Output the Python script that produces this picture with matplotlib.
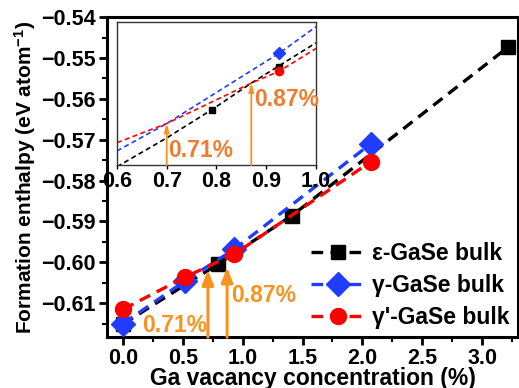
import matplotlib
matplotlib.use("Agg")
import matplotlib.pyplot as plt
from matplotlib.ticker import MultipleLocator

plt.rcParams['font.family'] = ['Liberation Sans', 'DejaVu Sans']
plt.rcParams['font.weight'] = 'bold'
plt.rcParams['mathtext.fontset'] = 'custom'
plt.rcParams['mathtext.rm'] = 'Liberation Sans:bold'
plt.rcParams['mathtext.bf'] = 'Liberation Sans:bold'
plt.rcParams['mathtext.it'] = 'Liberation Sans:bold:italic'

# ---- main data ----
eps_x = [0.0, 0.79, 1.41, 3.22]
eps_y = [-0.6151, -0.6005, -0.5886, -0.5473]
gam_x = [0.0, 0.52, 0.93, 2.07]
gam_y = [-0.6150, -0.6045, -0.5968, -0.5710]
gamp_x = [0.0, 0.52, 0.93, 2.07]
gamp_y = [-0.6115, -0.6036, -0.5980, -0.5754]
labels = ["ε-GaSe bulk", "γ-GaSe bulk", "γ'-GaSe bulk"]
cross_x = [0.71, 0.87]
cross_tip = [-0.6018, -0.6012]
cross_text = ["0.71%", "0.87%"]
text_pos_x = [0.16, 0.905]
text_pos_y = [-0.6154, -0.6080]

# ---- inset data ----
in_eps_x = [0.6, 0.7, 0.79, 0.87, 1.0]
in_eps_y = [-0.60421, -0.60233, -0.60050, -0.59875, -0.59612]
in_gam_x = [0.6, 0.7, 0.926, 1.0]
in_gam_y = [-0.60318, -0.60139, -0.59680, -0.59507]
in_gamp_x = [0.6, 0.7, 0.87, 0.926, 1.0]
in_gamp_y = [-0.60264, -0.60139, -0.59875, -0.59798, -0.59649]
in_eps_pt = ([0.79, 0.926], [-0.60050, -0.59770])
in_gam_pt = ([0.926], [-0.59680])
in_gamp_pt = ([0.926], [-0.59798])
in_cross_x = [0.70, 0.87]
in_tip = [-0.60139, -0.59875]
in_text_x = [0.703, 0.876]
in_text_y = [-0.60318, -0.59983]

black = '#000000'
blue = '#1f3cff'
red = '#ff0000'
orange = '#f7931e'
orange2 = '#ed7d31'

fig = plt.figure(figsize=(5.19, 3.88), dpi=100)
ax = fig.add_axes([0.206, 0.131, 0.792, 0.825])

lw = 2.4
dash = (3.5, 2.2)
ax.plot(eps_x, eps_y, ls='--', dashes=dash, color=black, lw=lw, marker='s', ms=10, label=labels[0], zorder=3)
ax.plot(gam_x, gam_y, ls='--', dashes=dash, color=blue, lw=lw, marker='D', ms=12, label=labels[1], zorder=4)
ax.plot(gamp_x, gamp_y, ls='--', dashes=dash, color=red, lw=lw, marker='o', ms=11.5, label=labels[2], zorder=5)

ymin, ymax = -0.6183, -0.54
for x, tip in zip(cross_x, cross_tip):
    ax.annotate('', xy=(x, tip), xytext=(x, ymin), zorder=6,
                arrowprops=dict(arrowstyle='-|>,head_length=0.9,head_width=0.35', color=orange, lw=2.2,
                                shrinkA=0, shrinkB=0))
for tx, ty, s in zip(text_pos_x, text_pos_y, cross_text):
    ax.text(tx, ty, s, color=orange, fontsize=16.5, fontweight='bold', va='center', ha='left', zorder=7)

ax.set_xlim(-0.134, 3.30)
ax.set_ylim(ymin, ymax)
ax.xaxis.set_minor_locator(MultipleLocator(0.25))
ax.yaxis.set_minor_locator(MultipleLocator(0.005))
ax.set_xticks([0, 0.5, 1.0, 1.5, 2.0, 2.5, 3.0])
ax.set_xticklabels(['0.0', '0.5', '1.0', '1.5', '2.0', '2.5', '3.0'])
ax.set_yticks([-0.61, -0.60, -0.59, -0.58, -0.57, -0.56, -0.55, -0.54])
ax.set_yticklabels(['\u22120.61', '\u22120.60', '\u22120.59', '\u22120.58', '\u22120.57', '\u22120.56', '\u22120.55', '\u22120.54'])
ax.tick_params(which='major', direction='out', length=6, width=2, labelsize=15.5, pad=2)
ax.tick_params(which='minor', direction='out', length=3.5, width=1.5)
for lab in ax.get_xticklabels() + ax.get_yticklabels():
    lab.set_fontweight('bold')
for sp in ax.spines.values():
    sp.set_linewidth(2.2)

ax.set_xlabel('Ga vacancy concentration (%)', fontsize=16.5, fontweight='bold', labelpad=-2)
ax.set_ylabel('Formation enthalpy (eV atom$^{-1}$)', fontsize=15, fontweight='bold', labelpad=2)

leg = ax.legend(loc='lower right', frameon=False, handlelength=2.4,
                handletextpad=0.3, labelspacing=0.4, borderaxespad=0.1, borderpad=0.25,
                prop={'weight': 'bold', 'size': 16.5})

# ---- inset ----
ins = fig.add_axes([0.2254, 0.5747, 0.3834, 0.3686])
ins.plot(in_eps_x, in_eps_y, ls='--', dashes=(3, 2), color=black, lw=1.2)
ins.plot(in_gam_x, in_gam_y, ls='--', dashes=(3, 2), color=blue, lw=1.2)
ins.plot(in_gamp_x, in_gamp_y, ls='--', dashes=(3, 2), color=red, lw=1.2)
ins.plot(*in_eps_pt, ls='none', marker='s', ms=5, color=black, zorder=3)
ins.plot(*in_gam_pt, ls='none', marker='D', ms=6, color=blue, zorder=4)
ins.plot(*in_gamp_pt, ls='none', marker='o', ms=6, color=red, zorder=5)
iymin, iymax = -0.6041, -0.59476
for x, tip in zip(in_cross_x, in_tip):
    ins.annotate('', xy=(x, tip), xytext=(x, iymin),
                 arrowprops=dict(arrowstyle='-|>,head_length=0.5,head_width=0.15', color=orange, lw=1.3,
                                 shrinkA=0, shrinkB=0))
for tx, ty, s in zip(in_text_x, in_text_y, cross_text):
    ins.text(tx, ty, s, color=orange2, fontsize=16.5, fontweight='bold', va='center', ha='left')
ins.set_xlim(0.6, 1.0)
ins.set_ylim(iymin, iymax)
ins.set_xticks([0.6, 0.7, 0.8, 0.9, 1.0])
ins.set_xticklabels(['0.6', '0.7', '0.8', '0.9', '1.0'])
ins.set_yticks([])
ins.tick_params(axis='x', direction='out', length=3, width=1, labelsize=15.5, pad=1)
for lab in ins.get_xticklabels():
    lab.set_fontweight('bold')
for sp in ins.spines.values():
    sp.set_linewidth(1.0)
    sp.set_color('#333333')

fig.savefig('out.png', dpi=100)
